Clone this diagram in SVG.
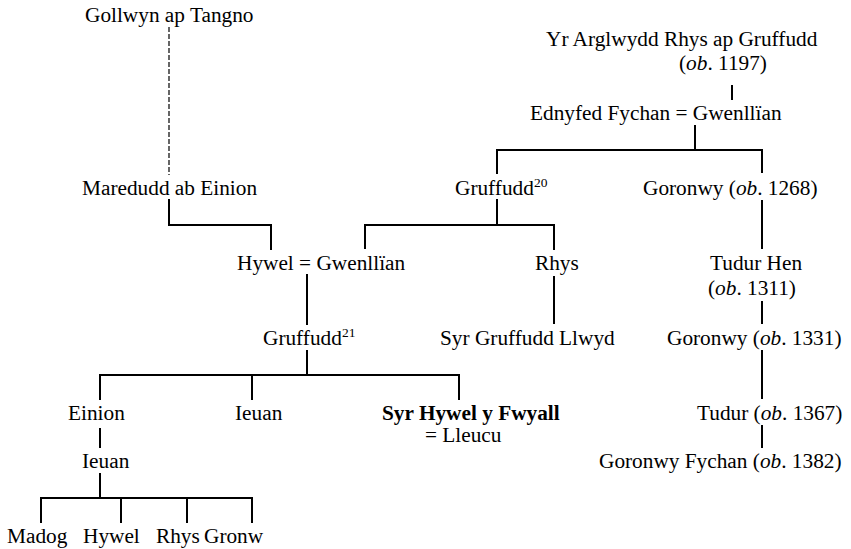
<svg xmlns="http://www.w3.org/2000/svg" width="851" height="549" viewBox="0 0 851 549">
<style>
text{font-family:"Liberation Serif","Times New Roman",serif;font-size:21.3px;fill:#000}
.b{font-weight:bold}
.i{font-style:italic}
.sup{font-size:13.5px}
.ln{fill:none;stroke:#000;stroke-width:2}
.dash{fill:none;stroke:#000;stroke-width:1.2;stroke-dasharray:5,2}
</style>
<rect width="851" height="549" fill="#fff"/>
<g id="connectors">
<path class="dash" d="M169,27V175"/>
<path class="ln" d="M169,199V225H271V250"/>
<path class="ln" d="M732,85V100"/>
<path class="ln" d="M695,125V150M497,174V150H762V173"/>
<path class="ln" d="M497,199V225M365,249V225H554V250"/>
<path class="ln" d="M762,200V249"/>
<path class="ln" d="M762,301V324"/>
<path class="ln" d="M762,350V399"/>
<path class="ln" d="M762,425V448"/>
<path class="ln" d="M554,276V324"/>
<path class="ln" d="M307,274V325"/>
<path class="ln" d="M307,350V375M100,400V375H459V400M252,375V400"/>
<path class="ln" d="M100,428V448"/>
<path class="ln" d="M100,473V498M41,523V498H252V523M121,498V523M187,498V523"/>
</g>
<g id="gollwyn"><text x="85" y="22">Gollwyn ap Tangno</text></g>
<g id="maredudd"><text x="82" y="195">Maredudd ab Einion</text></g>
<g id="rhys-ap-gruffudd"><text x="546" y="46">Yr Arglwydd Rhys ap Gruffudd</text><text x="679" y="70">(<tspan class="i">ob</tspan>. 1197)</text></g>
<g id="ednyfed"><text x="530" y="120">Ednyfed Fychan = Gwenllïan</text></g>
<g id="gruffudd20"><text x="455" y="195">Gruffudd<tspan class="sup" dy="-8">20</tspan></text></g>
<g id="goronwy1268"><text x="643" y="195">Goronwy (<tspan class="i">ob</tspan>. 1268)</text></g>
<g id="hywel-gwenllian"><text x="237" y="270">Hywel = Gwenllïan</text></g>
<g id="rhys"><text x="535" y="270">Rhys</text></g>
<g id="tudur-hen"><text x="710" y="270">Tudur Hen</text><text x="708" y="295">(<tspan class="i">ob</tspan>. 1311)</text></g>
<g id="gruffudd21"><text x="263" y="345">Gruffudd<tspan class="sup" dy="-8">21</tspan></text></g>
<g id="syr-gruffudd"><text x="440" y="345">Syr Gruffudd Llwyd</text></g>
<g id="goronwy1331"><text x="667" y="345">Goronwy (<tspan class="i">ob</tspan>. 1331)</text></g>
<g id="einion"><text x="68" y="420">Einion</text></g>
<g id="ieuan1"><text x="235" y="420">Ieuan</text></g>
<g id="syr-hywel"><text x="382" y="420" class="b">Syr Hywel y Fwyall</text><text x="425" y="442">= Lleucu</text></g>
<g id="tudur1367"><text x="697" y="420">Tudur (<tspan class="i">ob</tspan>. 1367)</text></g>
<g id="ieuan2"><text x="82" y="468">Ieuan</text></g>
<g id="goronwy-fychan"><text x="599" y="468">Goronwy Fychan (<tspan class="i">ob</tspan>. 1382)</text></g>
<g id="madog"><text x="7" y="543">Madog</text></g>
<g id="hywel"><text x="83" y="543">Hywel</text></g>
<g id="rhys2"><text x="156" y="543">Rhys</text></g>
<g id="gronw"><text x="204" y="543">Gronw</text></g>
</svg>
